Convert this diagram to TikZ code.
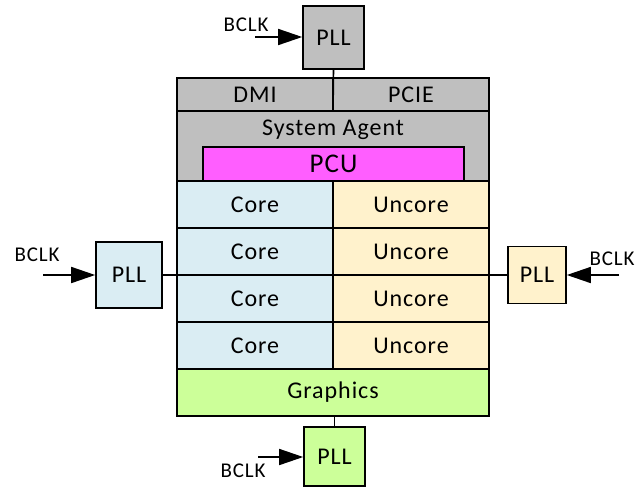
\documentclass[tikz,border=0pt]{standalone}
\usepackage{fontspec}
\setmainfont{Carlito}[LetterSpace=4]
\usetikzlibrary{arrows.meta}
\definecolor{sagray}{HTML}{BFBFBF}
\definecolor{pcumag}{HTML}{FF5EFF}
\definecolor{coreblue}{HTML}{DAEDF3}
\definecolor{uncorey}{HTML}{FFF2CC}
\definecolor{gfxgreen}{HTML}{CCFF99}
\tikzset{
  blk/.style={draw=black, line width=1.6pt, inner sep=0pt, font=\fontsize{24}{26}\selectfont},
  conn/.style={line width=1.6pt},
  clk/.style={line width=1.6pt, -{Triangle[length=24pt,width=16pt]}},
  lbl/.style={font=\fontsize{21}{23}\selectfont, inner sep=0pt}
}
\begin{document}
\begin{tikzpicture}[x=1pt,y=-1pt]
\useasboundingbox (0,0) rectangle (639,488);
% system agent area
\node[blk, fill=sagray, minimum width=312pt, minimum height=70pt] (sa) at (333,146) {};
\node[font=\fontsize{24}{26}\selectfont, inner sep=0pt] (satext) at (333,130) {System Agent};
\node[blk, fill=pcumag, minimum width=261pt, minimum height=34pt, font=\fontsize{27}{29}\selectfont] (pcu) at (333.5,164) {PCU};
\node[blk, fill=sagray, minimum width=156pt, minimum height=33pt] (dmi) at (255,94.5) {DMI};
\node[blk, fill=sagray, minimum width=156pt, minimum height=33pt] (pcie) at (411,94.5) {PCIE};
% cores
\foreach \i/\y in {1/205, 2/251.5, 3/298.5, 4/346}{
  \node[blk, fill=coreblue, minimum width=156pt, minimum height=47pt] (core\i) at (255,\y) {Core};
  \node[blk, fill=uncorey, minimum width=156pt, minimum height=47pt] (uncore\i) at (411,\y) {Uncore};
}
\node[blk, fill=gfxgreen, minimum width=312pt, minimum height=47pt] (gfx) at (333,392.5) {Graphics};
% PLLs
\node[blk, fill=sagray, minimum width=61pt, minimum height=63pt] (pllT) at (333.5,37.5) {PLL};
\node[blk, fill=coreblue, minimum width=66pt, minimum height=66pt] (pllL) at (129,275) {PLL};
\node[blk, fill=uncorey, minimum width=58pt, minimum height=57pt] (pllR) at (537,275) {PLL};
\node[blk, fill=gfxgreen, minimum width=61pt, minimum height=59pt] (pllB) at (334.5,456.5) {PLL};
% connectors
\coordinate (saTop) at (333,111);
\draw[conn] (pllT.south) -- (saTop);
\draw[conn] (pllL.east) -- (pllR.west);
\draw[conn] (gfx.south -| pllB.north) -- (pllB.north);
% clock inputs
\coordinate (cT) at (255,37);
\coordinate (cL) at (43,275);
\coordinate (cR) at (619,275);
\coordinate (cB) at (258,457);
\draw[clk] (cT) -- (cT -| pllT.west);
\draw[clk] (cL) -- (pllL.west);
\draw[clk] (cR) -- (pllR.east);
\draw[clk] (cB) -- (cB -| pllB.west);
\node[lbl] (bT) at (246,25) {BCLK};
\node[lbl] (bL) at (37,255) {BCLK};
\node[lbl] (bR) at (612,259) {BCLK};
\node[lbl] (bB) at (243,471) {BCLK};
\end{tikzpicture}
\end{document}
